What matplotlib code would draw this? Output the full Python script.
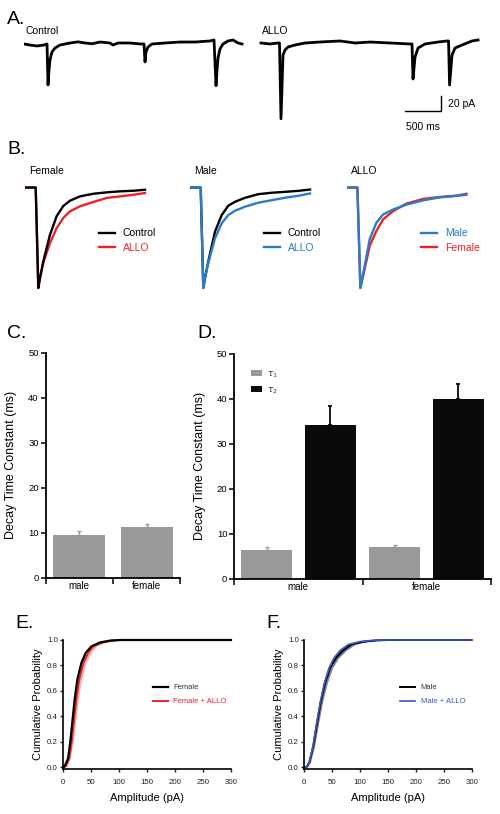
import matplotlib
matplotlib.use('Agg')
from matplotlib import pyplot as plt
import numpy as np

plt.rcParams['font.family'] = ['Liberation Sans', 'DejaVu Sans']

# ---- panel A: raw traces (time in ms, current in pA)
control_t = [0, 83, 181, 278, 320, 334, 348, 361, 389, 431, 500, 639, 750, 848, 950,
             1056, 1195, 1237, 1307, 1473, 1612, 1668, 1682, 1696, 1724, 1779, 1960,
             2168, 2377, 2585, 2641, 2669, 2683, 2697, 2724, 2766, 2836, 2905, 2975, 3030]
control_pA = [-1.3, -2.7, -4, -2.7, -1.3, -56, -36, -22.7, -12, -6.7, -2.7, 0, 1.5, 0, -1,
              1.3, 0, -2.7, 0, 0, -1.3, -1.3, -25.3, -12, -5.3, -1.3, 0,
              1.3, 1.3, 2.7, 4, -57, -36, -20, -8, -1.3, 2.7, 4, 0, -1.3]
allo_t = [3294, 3419, 3530, 3551, 3572, 3600, 3628, 3670, 3767, 3906, 4114, 4392, 4601,
          4809, 5087, 5365, 5393, 5407, 5435, 5477, 5574, 5755, 5880, 5901, 5915, 5949,
          5991, 6088, 6227, 6311]
allo_pA = [0, -1.3, 0, 0, -101, -16, -9.3, -5.3, -2.7, 0, 1.3, 2.7, 0,
           1.3, 0, -1.3, -1.3, -48, -18.7, -6.7, -1.3, 1.3, 2.7, 2.7, -56, -16,
           -6.7, -2.7, 2.7, 4]
scale_ms = 500
scale_pA = 20

# ---- panel B: normalised averaged events (time in ms)
b_t = [0, 20, 21.4, 26.6, 30, 36.6, 50, 63.4, 76.6, 90, 110, 136.6, 163.4, 190, 216.6, 240]
fem_control = [0, 0, 0, -1.0, -0.90, -0.734, -0.47, -0.284, -0.184, -0.131, -0.088,
               -0.062, -0.048, -0.038, -0.032, -0.022]
fem_allo = [0, 0, 0, -1.0, -0.90, -0.751, -0.552, -0.403, -0.303, -0.237, -0.187,
            -0.144, -0.104, -0.088, -0.072, -0.055]
male_control = [0, 0, 0, -1.0, -0.90, -0.736, -0.439, -0.274, -0.181, -0.142, -0.102,
                -0.066, -0.052, -0.043, -0.033, -0.02]
male_allo = [0, 0, 0, -1.0, -0.90, -0.752, -0.505, -0.356, -0.274, -0.231, -0.191,
             -0.151, -0.126, -0.102, -0.082, -0.059]
ab_t = [0, 20, 20.8, 26.8, 35.4, 45.4, 58.8, 72, 92, 118.8, 152, 185.4, 218.8, 238.8]
allo_male = [0, 0, 0, -1.0, -0.778, -0.515, -0.350, -0.269, -0.219, -0.170, -0.128,
             -0.098, -0.082, -0.072]
allo_female = [0, 0, 0, -1.0, -0.81, -0.581, -0.433, -0.318, -0.236, -0.160, -0.114,
               -0.094, -0.082, -0.062]

# ---- panel C / D: decay time constants (ms)
sexes = ['male', 'female']
tau_w = [9.5, 11.3]
tau_w_err = [0.8, 0.7]
tau1 = [6.4, 7.1]
tau1_err = [0.6, 0.5]
tau2 = [34.2, 39.9]
tau2_err = [4.2, 3.3]

# ---- panel E / F: cumulative amplitude distributions
e_prob = [0, 0.01, 0.07, 0.2, 0.36, 0.54, 0.69, 0.82, 0.90, 0.95, 0.98, 0.995, 1.0, 1.0]
fem_cum = [0, 3, 9, 13, 16.7, 21, 25.6, 32.8, 40.6, 50.7, 65.6, 83.5, 101, 300]
fem_allo_cum = [0, 5, 11, 15.5, 19.5, 24, 29, 36.5, 45, 54, 69, 87, 103, 300]
fem_allo_lo = [0, 3.5, 9.5, 13.5, 17.5, 22, 27, 34, 42, 51, 66, 84, 101, 300]
fem_allo_hi = [0, 7, 13, 18, 22.5, 27.5, 33, 41, 50, 59, 75, 93, 105, 300]
f_prob = [0, 0.005, 0.04, 0.17, 0.33, 0.51, 0.66, 0.78, 0.86, 0.92, 0.966, 0.987, 0.997, 1.0, 1.0]
male_cum = [0, 4.8, 9.5, 16.7, 22.7, 29.8, 37.6, 46.5, 57.3, 70.4, 85.3, 106, 130, 154, 300]
male_allo_cum = [0, 4.8, 9.5, 16.2, 22, 29, 36.5, 45, 54, 65, 80, 100, 122, 150, 300]
male_lo = [0, 3.5, 8, 14.5, 20, 27, 34, 42, 51, 62, 76, 96, 118, 145, 300]
male_hi = [0, 6.5, 11.5, 19, 25.5, 33, 41.5, 51, 62, 76, 92, 113, 138, 160, 300]

RED = '#ec2227'
BLUE = '#2a7cc7'
BLUE2 = '#3a56c4'
GREY = '#999999'

W, H = 500, 814
fig = plt.figure(figsize=(W / 100, H / 100), dpi=100)


def px_axes(x0, y0, x1, y1):
    return fig.add_axes([x0 / W, 1 - y1 / H, (x1 - x0) / W, (y1 - y0) / H])


def px_text(x, y, s, **kw):
    fig.text(x / W, 1 - y / H, s, **kw)


# panel letters
for lab, x, y in [('A.', 7, 23.5), ('B.', 7, 153.5), ('C.', 7, 338.5), ('D.', 197, 338.5),
                  ('E.', 15, 628.5), ('F.', 266, 628.5)]:
    px_text(x, y, lab, fontsize=14, va='baseline')

# ---------------- A
axA = px_axes(24, 25, 480, 135)
axA.plot(control_t, control_pA, color='k', lw=2.0)
axA.plot(allo_t, allo_pA, color='k', lw=2.0)
sb_x = allo_t[-1] - 515
sb_y = -90.7
axA.plot([sb_x - scale_ms, sb_x, sb_x], [sb_y, sb_y, sb_y + scale_pA], color='k', lw=1)
axA.text(sb_x + 100, sb_y + scale_pA / 2, '20 pA', fontsize=7.5, va='center')
axA.text(sb_x - scale_ms / 2, sb_y - 21, '500 ms', fontsize=7.5, ha='center', va='center')
axA.set_xlim(0, 6338)
axA.set_ylim(-122.7, 24)
axA.axis('off')
px_text(25, 34.5, 'Control', fontsize=7.5, va='baseline')
px_text(262, 34.5, 'ALLO', fontsize=7.5, va='baseline')

# ---------------- B
b_panels = [
    (25, 'Female', [(b_t, fem_allo, RED, 'ALLO'), (b_t, fem_control, 'k', 'Control')], [1, 0]),
    (190, 'Male', [(b_t, male_control, 'k', 'Control'), (b_t, male_allo, BLUE, 'ALLO')], [0, 1]),
    (347, 'ALLO', [(ab_t, allo_female, RED, 'Female'), (ab_t, allo_male, BLUE, 'Male')], [1, 0]),
]
for x0, title, traces, order in b_panels:
    ax = px_axes(x0, 180, x0 + 125, 295)
    handles = []
    for t, v, c, lab in traces:
        h, = ax.plot(t, v, color=c, lw=1.7, label=lab)
        handles.append(h)
    ax.set_xlim(0, 250)
    ax.set_ylim(-1.07, 0.075)
    ax.axis('off')
    ax.legend(handles=[handles[i] for i in order], loc='upper left',
              bbox_to_anchor=(0.59, 0.58), frameon=False, fontsize=7.5,
              handlelength=1.55, handletextpad=0.75, labelspacing=0.45,
              borderpad=0, borderaxespad=0, labelcolor='linecolor')
    px_text(x0 + 4, 173.5, title, fontsize=7.5, va='baseline')


def bar_axes(ax):
    for s in ['top', 'right']:
        ax.spines[s].set_visible(False)
    for s in ['left', 'bottom']:
        ax.spines[s].set_linewidth(1.3)
    ax.set_ylim(0, 50)
    ax.set_xlim(-0.5, 1.5)
    ax.set_yticks([0, 10, 20, 30, 40, 50])
    ax.tick_params(axis='y', direction='out', length=3.5, width=1.1, labelsize=6.8, pad=1.5)
    ax.set_xticks([-0.5, 0.5, 1.5])
    ax.set_xticklabels([])
    ax.tick_params(axis='x', which='major', direction='out', length=4.5, width=1.1)
    ax.set_xticks([0, 1], minor=True)
    ax.set_xticklabels(sexes, minor=True)
    ax.tick_params(axis='x', which='minor', length=0, labelsize=7, pad=2.5)
    ax.set_ylabel('Decay Time Constant (ms)', fontsize=9, labelpad=8)


# ---------------- C
axC = px_axes(45.7, 352.7, 180.3, 577.7)
xc = np.arange(len(sexes))
axC.bar(xc, tau_w, width=0.773, color=GREY)
axC.errorbar(xc, tau_w, yerr=[[0, 0], tau_w_err], fmt='none', ecolor=GREY, elinewidth=1,
             capsize=1.6, capthick=1)
bar_axes(axC)

# ---------------- D
axD = px_axes(234.3, 353.7, 490.7, 578.7)
xd = np.arange(len(sexes))
axD.bar(xd - 0.247, tau1, width=0.398, color=GREY, label=r'$\tau_1$')
axD.bar(xd + 0.247, tau2, width=0.398, color='#0a0a0a', label=r'$\tau_2$')
axD.errorbar(xd - 0.247, tau1, yerr=[[0, 0], tau1_err], fmt='none', ecolor=GREY,
             elinewidth=1, capsize=1.6, capthick=1)
axD.errorbar(xd + 0.247, tau2, yerr=[[0, 0], tau2_err], fmt='none', ecolor='#0a0a0a',
             elinewidth=1.3, capsize=1.6, capthick=1.3)
bar_axes(axD)
axD.legend(loc='upper left', bbox_to_anchor=(0.065, 0.93), frameon=False, fontsize=6.5,
           handlelength=1.2, handleheight=0.7, handletextpad=0.6, labelspacing=0.6,
           borderpad=0, borderaxespad=0, labelcolor='#333333')


def cum_axes(ax):
    for s in ['top', 'right']:
        ax.spines[s].set_visible(False)
    for s in ['left', 'bottom']:
        ax.spines[s].set_linewidth(1.2)
    ax.set_xlim(0, 300)
    ax.set_ylim(-0.012, 1.0)
    ax.set_xticks(np.arange(0, 301, 50))
    ax.set_yticks(np.arange(0, 1.01, 0.2))
    ax.set_yticklabels(['%.1f' % v for v in np.arange(0, 1.01, 0.2)])
    ax.tick_params(direction='out', length=2.5, width=1, labelsize=5.7, colors='#222222')
    ax.tick_params(axis='x', pad=5)
    ax.tick_params(axis='y', pad=1.2)
    ax.set_xlabel('Amplitude (pA)', fontsize=8, labelpad=5)
    ax.set_ylabel('Cumulative Probability', fontsize=8, labelpad=3)


# ---------------- E
axE = px_axes(63, 640, 231, 769)
axE.fill_betweenx(e_prob, fem_allo_lo, fem_allo_hi, color='#f08a8a', alpha=0.7, lw=0)
axE.plot(fem_allo_cum, e_prob, color=RED, lw=1.4, label='Female + ALLO', clip_on=False)
axE.plot(fem_cum, e_prob, color='k', lw=1.6, label='Female', clip_on=False)
cum_axes(axE)
hE, lE = axE.get_legend_handles_labels()
axE.legend(hE[::-1], lE[::-1], loc='upper left', bbox_to_anchor=(0.534, 0.66),
           frameon=False, fontsize=5.5, handlelength=2.0, handletextpad=0.7,
           labelspacing=0.9, borderpad=0, borderaxespad=0,
           labelcolor=['#333333', RED])

# ---------------- F
axF = px_axes(304, 640, 471.7, 769)
axF.fill_betweenx(f_prob, male_lo, male_hi, color='#55596a', alpha=0.75, lw=0)
axF.plot(male_cum, f_prob, color='k', lw=1.4, label='Male', clip_on=False)
axF.plot(male_allo_cum, f_prob, color=BLUE2, lw=1.2, label='Male + ALLO', clip_on=False)
cum_axes(axF)
axF.legend(loc='upper left', bbox_to_anchor=(0.572, 0.66), frameon=False, fontsize=5.5,
           handlelength=2.0, handletextpad=0.7, labelspacing=0.9, borderpad=0,
           borderaxespad=0, labelcolor=['#333333', BLUE2])

fig.savefig('out.png', dpi=100)
